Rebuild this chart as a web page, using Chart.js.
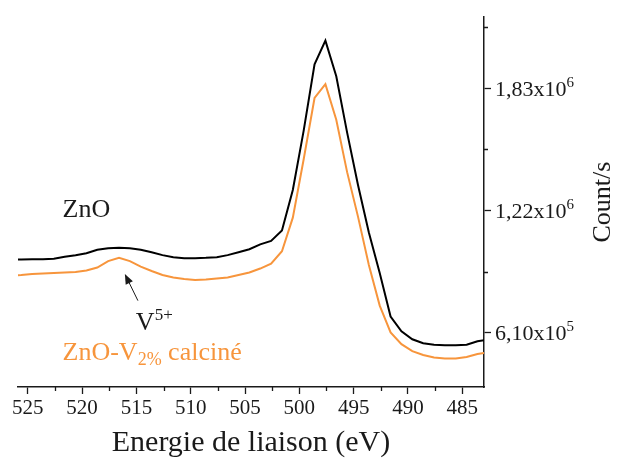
<!DOCTYPE html>
<html>
<head>
<meta charset="utf-8">
<script src="https://cdn.jsdelivr.net/npm/chart.js@4.4.1/dist/chart.umd.min.js"></script>
<style>
  html, body { margin: 0; padding: 0; background: #fff; }
</style>
</head>
<body>
<canvas id="xpsChart" width="619" height="461"></canvas>
<script>
// binding energy (eV)
const energies = [526.6, 525.6, 524.6, 523.6, 522.6, 521.6, 520.6, 519.6, 518.6, 517.6,
    516.6, 515.6, 514.6, 513.6, 512.6, 511.6, 510.6, 509.6, 508.6, 507.6,
    506.6, 505.6, 504.6, 503.6, 502.6, 501.6, 500.6, 499.6, 498.6, 497.6,
    496.6, 495.6, 494.6, 493.6, 492.6, 491.6, 490.6, 489.6, 488.6, 487.6,
    486.6, 485.6, 484.6, 483.6, 482.6];

// ZnO (black)
const znoCounts = [974500, 975500, 976900, 977000, 979400, 989300, 996700, 1006500, 1023800, 1031200,
    1033600, 1031000, 1024000, 1011500, 997000, 986800, 981900, 982000, 983400, 987000,
    997000, 1011000, 1026200, 1050900, 1068200, 1119900, 1322000, 1618000, 1948300, 2066700,
    1889200, 1608100, 1346800, 1110100, 907900, 691000, 617000, 577500, 557800, 550400,
    548000, 548000, 550000, 567700, 575000];

// ZnO-V2% calciné (orange)
const znoVCounts = [895600, 898000, 903000, 905400, 907900, 910400, 912800, 920200, 935000, 967100,
    984300, 967000, 940000, 917800, 898000, 885700, 878300, 873400, 875800, 880800,
    885700, 898000, 910400, 930100, 954700, 1016400, 1184000, 1475000, 1780700, 1849700,
    1672200, 1410900, 1189000, 947400, 745200, 612000, 553000, 518400, 498700, 486200,
    481400, 481400, 488800, 503600, 513400];

const xTicks = [525, 520, 515, 510, 505, 500, 495, 490, 485];
const xMinorTicks = [522.5, 517.5, 512.5, 507.5, 502.5, 497.5, 492.5, 487.5];
const yTicks = [610000, 1220000, 1830000];
const yTickMantissa = ["6,10x10", "1,22x10", "1,83x10"];
const yTickExponent = ["5", "6", "6"];
const yMinorTicks = [915000, 1525000, 2135000];

const SERIF = "'Liberation Serif', 'DejaVu Serif', serif";
const INK = "#1a1a1a";
const ORANGE = "#f7953c";

// draw a run of text pieces (for sub/superscripts)
function drawRuns(ctx, x, y, runs) {
    ctx.textAlign = "left";
    ctx.textBaseline = "alphabetic";
    runs.forEach(r => {
        ctx.font = r.size + "px " + SERIF;
        ctx.fillStyle = r.color;
        ctx.fillText(r.text, x, y + (r.dy || 0));
        x += ctx.measureText(r.text).width;
    });
}

const decorPlugin = {
    id: "decor",
    afterDraw(chart) {
        const ctx = chart.ctx;
        const xs = chart.scales.x;
        const ys = chart.scales.y;
        ctx.save();

        // minor ticks
        ctx.strokeStyle = INK;
        ctx.lineWidth = 1.3;
        ctx.beginPath();
        xMinorTicks.forEach(v => {
            const px = Math.round(xs.getPixelForValue(v)) + 0.5;
            ctx.moveTo(px, xs.top);
            ctx.lineTo(px, xs.top + 4);
        });
        yMinorTicks.forEach(v => {
            const py = Math.round(ys.getPixelForValue(v)) + 0.5;
            ctx.moveTo(ys.left, py);
            ctx.lineTo(ys.left + 4, py);
        });
        ctx.stroke();

        // right tick labels with a real superscript exponent
        yTicks.forEach((v, i) => {
            const py = ys.getPixelForValue(v);
            drawRuns(ctx, ys.left + 11, py + 7.5, [
                { text: yTickMantissa[i], size: 22, color: INK },
                { text: yTickExponent[i], size: 15, dy: -9, color: INK }
            ]);
        });

        // right axis title, reads bottom to top
        ctx.save();
        ctx.translate(chart.width - 16, (ys.top + ys.bottom) / 2);
        ctx.rotate(-Math.PI / 2);
        ctx.font = "26px " + SERIF;
        ctx.fillStyle = INK;
        ctx.textAlign = "center";
        ctx.textBaseline = "middle";
        ctx.fillText("Count/s", 0, 0);
        ctx.restore();

        // labels
        drawRuns(ctx, xs.getPixelForValue(521.8), ys.getPixelForValue(1189000),
            [{ text: "ZnO", size: 26, color: INK }]);
        drawRuns(ctx, xs.getPixelForValue(515.05), ys.getPixelForValue(622000), [
            { text: "V", size: 26, color: INK },
            { text: "5+", size: 17, dy: -10, color: INK }
        ]);
        drawRuns(ctx, xs.getPixelForValue(521.8), ys.getPixelForValue(474000), [
            { text: "ZnO-V", size: 26, color: ORANGE },
            { text: "2%", size: 18, dy: 5, color: ORANGE },
            { text: " calcin\u00e9", size: 26, color: ORANGE }
        ]);

        // arrow pointing at the V5+ shoulder
        const hx = xs.getPixelForValue(516.06), hy = ys.getPixelForValue(903000);
        const tx = xs.getPixelForValue(514.86), ty = ys.getPixelForValue(770000);
        const ang = Math.atan2(hy - ty, hx - tx);
        ctx.strokeStyle = INK;
        ctx.fillStyle = INK;
        ctx.lineWidth = 1;
        ctx.beginPath();
        ctx.moveTo(tx, ty);
        ctx.lineTo(hx - 6 * Math.cos(ang), hy - 6 * Math.sin(ang));
        ctx.stroke();
        ctx.beginPath();
        ctx.moveTo(hx, hy);
        ctx.lineTo(hx - 10 * Math.cos(ang) + 4 * Math.sin(ang), hy - 10 * Math.sin(ang) - 4 * Math.cos(ang));
        ctx.lineTo(hx - 10 * Math.cos(ang) - 4 * Math.sin(ang), hy - 10 * Math.sin(ang) + 4 * Math.cos(ang));
        ctx.closePath();
        ctx.fill();

        ctx.restore();
    }
};

const ctx = document.getElementById("xpsChart").getContext("2d");
const chart = new Chart(ctx, {
    type: "line",
    data: {
        datasets: [
            {
                label: "ZnO",
                data: energies.map((e, i) => ({ x: e, y: znoCounts[i] })),
                borderColor: "#000000",
                borderWidth: 2,
                pointRadius: 0,
                tension: 0
            },
            {
                label: "ZnO-V2% calciné",
                data: energies.map((e, i) => ({ x: e, y: znoVCounts[i] })),
                borderColor: ORANGE,
                borderWidth: 2,
                pointRadius: 0,
                tension: 0
            }
        ]
    },
    options: {
        responsive: false,
        animation: false,
        layout: { padding: { left: 18, top: 13, right: 0, bottom: 0 } },
        plugins: {
            legend: { display: false },
            tooltip: { enabled: false }
        },
        scales: {
            x: {
                type: "linear",
                position: "bottom",
                reverse: true,
                min: 483,
                max: 525.9,
                afterBuildTicks: s => { s.ticks = xTicks.map(v => ({ value: v })); },
                afterFit: s => { s.height = 74; },
                grid: { drawOnChartArea: false, drawTicks: true, tickLength: 7, tickColor: INK, tickWidth: 1.3 },
                border: { display: true, color: INK, width: 1.5 },
                ticks: {
                    color: INK,
                    font: { family: SERIF, size: 21 },
                    padding: 2,
                    maxRotation: 0,
                    autoSkip: false,
                    callback: v => String(v)
                },
                title: {
                    display: true,
                    text: "Energie de liaison (eV)",
                    color: INK,
                    font: { family: SERIF, size: 30 },
                    padding: { top: 0, bottom: 0 }
                }
            },
            y: {
                type: "linear",
                position: "right",
                min: 339400,
                max: 2183600,
                afterBuildTicks: s => { s.ticks = yTicks.map(v => ({ value: v })); },
                afterFit: s => { s.width = 135; },
                grid: { drawOnChartArea: false, drawTicks: true, tickLength: 7, tickColor: INK, tickWidth: 1.3 },
                border: { display: true, color: INK, width: 1.5 },
                ticks: {
                    color: INK,
                    font: { family: SERIF, size: 22 },
                    padding: 4,
                    callback: () => ""
                }
            }
        }
    },
    plugins: [decorPlugin]
});
</script>
</body>
</html>
